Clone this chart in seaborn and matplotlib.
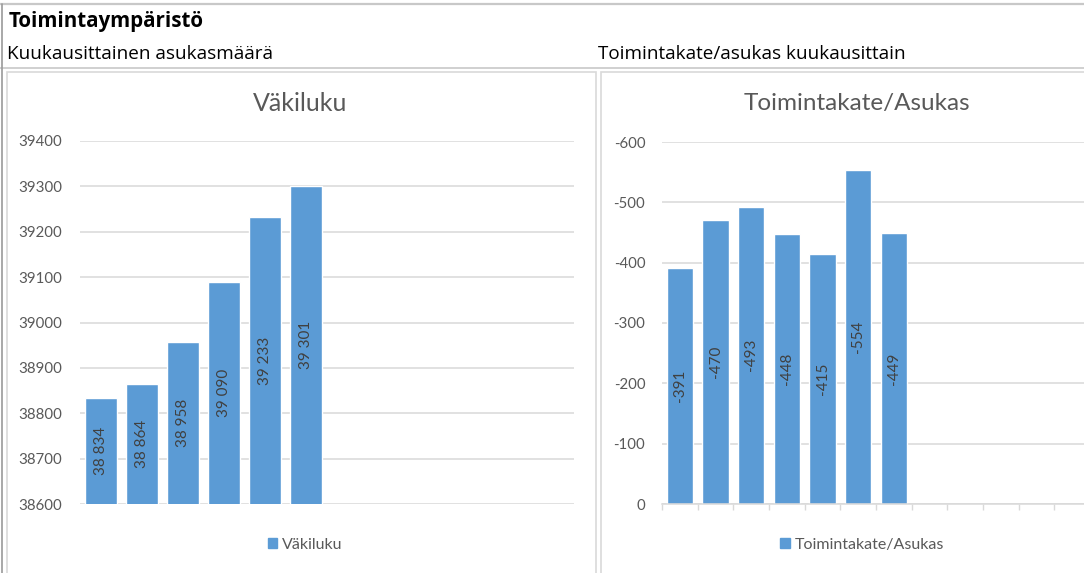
import numpy as np
import pandas as pd
import seaborn as sns
import matplotlib.pyplot as plt
from matplotlib.patches import Rectangle
from matplotlib.lines import Line2D

# data
months = list(range(1, 13))
vakiluku = [38834, 38864, 38958, 39090, 39233, 39301]
toimintakate = [-391, -470, -493, -448, -415, -554, -449]
vaki_ticks = [38600, 38700, 38800, 38900, 39000, 39100, 39200, 39300, 39400]
kate_ticks = [0, -100, -200, -300, -400, -500, -600]

BLUE = '#5B9BD5'
GREY_TXT = '#595959'
GRID = '#d9d9d9'

sns.set_theme(style='white')
plt.rcParams['font.family'] = ['Lato', 'DejaVu Sans']

W, H = 1084, 573
fig = plt.figure(figsize=(W / 100, H / 100), dpi=100)


def box(x0, y0, x1, y1):
    # pixel box (top-left origin) -> figure fraction rect
    return [x0 / W, 1 - y1 / H, (x1 - x0) / W, (y1 - y0) / H]


# frame lines of the report sheet
fig.add_artist(Line2D([0, 1], [1 - 4 / H, 1 - 4 / H], color='#c8c8c8', lw=1.6))
fig.add_artist(Line2D([0, 1], [1 - 68 / H, 1 - 68 / H], color='#c8c8c8', lw=1.2))
fig.add_artist(Line2D([2 / W, 2 / W], [0, 1 - 4 / H], color='#9a9a9a', lw=1.2))
fig.add_artist(Rectangle((7 / W, -0.01), (596 - 7) / W, 1 - 72 / H + 0.01,
                         fill=False, ec=GRID, lw=1.2))
fig.add_artist(Rectangle((601 / W, -0.01), 0.5, 1 - 72 / H + 0.01,
                         fill=False, ec=GRID, lw=1.2))

hdr = ['Open Sans', 'DejaVu Sans']
fig.text(9 / W, 1 - 21 / H, 'Toimintaympäristö', fontsize=14.8, fontweight='bold',
         family=hdr, va='center', ha='left', color='black')
fig.text(7 / W, 1 - 54 / H, 'Kuukausittainen asukasmäärä', fontsize=13.6,
         family=hdr, va='center', ha='left', color='black')
fig.text(598 / W, 1 - 54 / H, 'Toimintakate/asukas kuukausittain', fontsize=13.6,
         family=hdr, va='center', ha='left', color='black')

# left chart: Väkiluku
ax1 = fig.add_axes(box(80, 141, 574, 504))
df1 = pd.DataFrame({'kk': months[:len(vakiluku)], 'arvo': vakiluku})
sns.barplot(data=df1, x='kk', y='arvo', order=months, color=BLUE, saturation=1,
            width=0.78, ax=ax1)
ax1.set_ylim(vaki_ticks[0], vaki_ticks[-1])
ax1.set_xlim(-0.5, 11.5)
ax1.set_yticks(vaki_ticks)
ax1.set_yticklabels([str(t) for t in vaki_ticks])
ax1.set_xticks([])
ax1.set_xlabel('')
ax1.set_ylabel('')
ax1.set_axisbelow(True)
ax1.yaxis.grid(True, color=GRID, lw=1.1)
for s in ax1.spines.values():
    s.set_visible(False)
ax1.tick_params(axis='y', length=0, pad=13, labelsize=10.8, labelcolor=GREY_TXT)
for i, v in enumerate(vakiluku):
    ax1.text(i, (vaki_ticks[0] + v) / 2, f'{v:,}'.replace(',', ' '), rotation=90,
             ha='center', va='center', fontsize=11, color='#404040')
ax1.legend(handles=[Rectangle((0, 0), 1, 1, color=BLUE)], labels=['Väkiluku'],
           loc='center', bbox_to_anchor=(305 / W, 1 - 545 / H),
           bbox_transform=fig.transFigure, frameon=False, handlelength=0.6,
           handleheight=0.6, handletextpad=0.3, fontsize=11.5, labelcolor=GREY_TXT)
fig.text(300 / W, 1 - 103 / H, 'Väkiluku', fontsize=18, color=GREY_TXT,
         ha='center', va='center')

# right chart: Toimintakate/Asukas (reversed axis)
ax2 = fig.add_axes(box(662, 142, 1090, 504))
df2 = pd.DataFrame({'kk': months[:len(toimintakate)], 'arvo': toimintakate})
sns.barplot(data=df2, x='kk', y='arvo', order=months, color=BLUE, saturation=1,
            width=0.73, ax=ax2)
ax2.set_ylim(kate_ticks[0], kate_ticks[-1])
ax2.set_xlim(-0.5, 11.5)
ax2.set_yticks(kate_ticks)
ax2.set_yticklabels([str(t) for t in kate_ticks])
ax2.set_xticks(np.arange(-0.5, 12, 1))
ax2.set_xticklabels([])
ax2.set_xlabel('')
ax2.set_ylabel('')
ax2.set_axisbelow(True)
ax2.yaxis.grid(True, color=GRID, lw=1.1)
for name, s in ax2.spines.items():
    s.set_visible(name == 'bottom')
ax2.spines['bottom'].set_color(GRID)
ax2.spines['bottom'].set_linewidth(1.1)
ax2.tick_params(axis='y', length=0, pad=12, labelsize=10.8, labelcolor=GREY_TXT)
ax2.tick_params(axis='x', length=4, width=1, color=GRID, direction='out', bottom=True)
for i, v in enumerate(toimintakate):
    ax2.text(i, v / 2, str(v), rotation=90, ha='center', va='center',
             fontsize=11, color='#404040')
ax2.legend(handles=[Rectangle((0, 0), 1, 1, color=BLUE)], labels=['Toimintakate/Asukas'],
           loc='center', bbox_to_anchor=(862 / W, 1 - 545 / H),
           bbox_transform=fig.transFigure, frameon=False, handlelength=0.6,
           handleheight=0.6, handletextpad=0.3, fontsize=11.5, labelcolor=GREY_TXT)
fig.text(857 / W, 1 - 103 / H, 'Toimintakate/Asukas', fontsize=17.5, color=GREY_TXT,
         ha='center', va='center')

fig.savefig('out.png', dpi=100)
